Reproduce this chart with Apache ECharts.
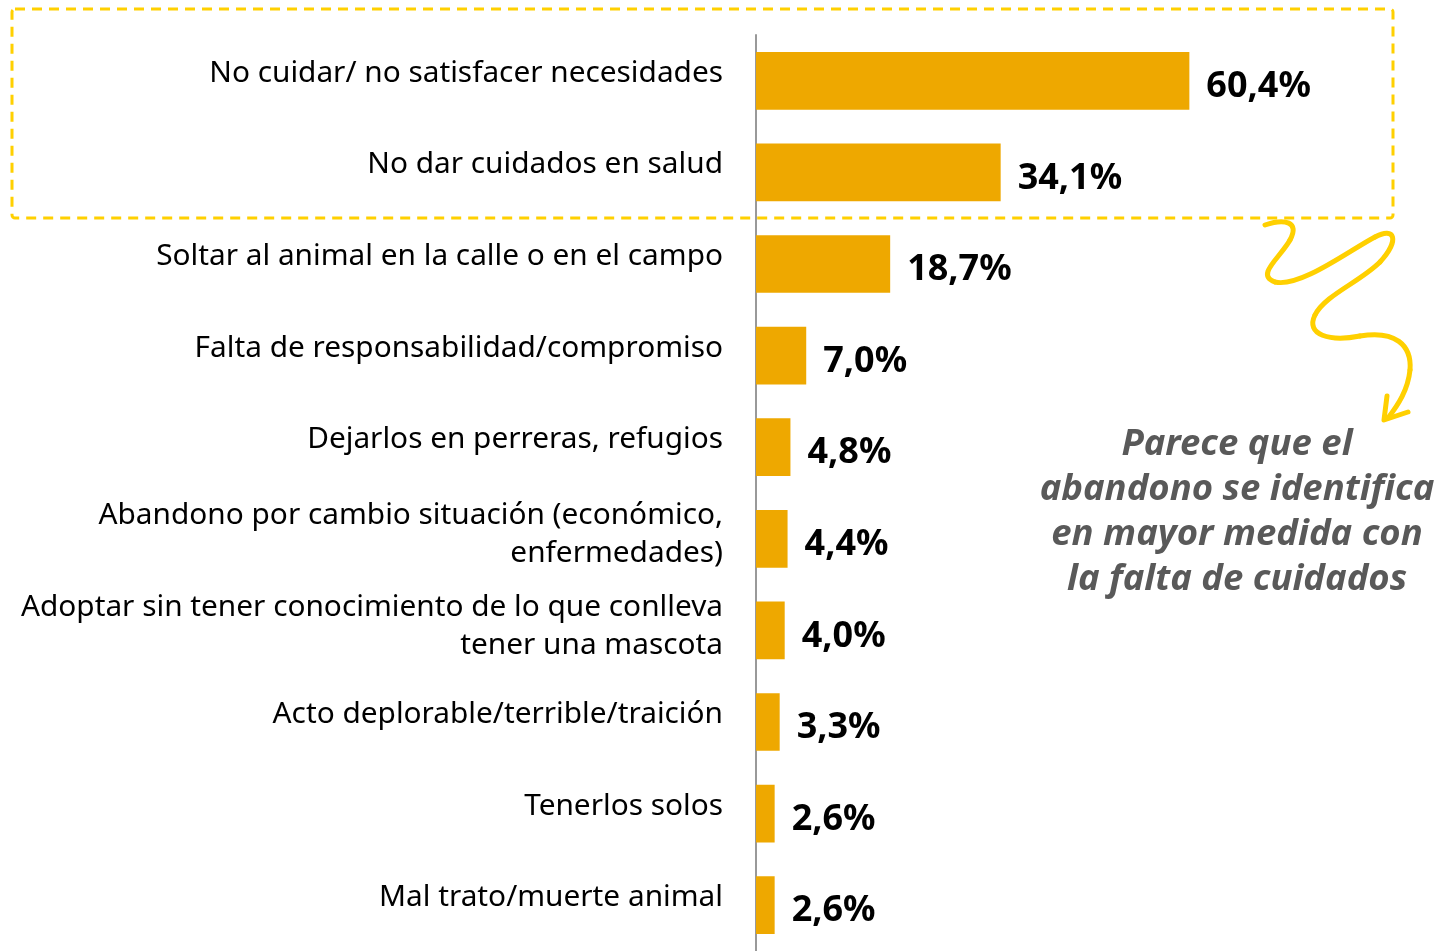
<!DOCTYPE html>
<html lang="es">
<head>
<meta charset="UTF-8">
<title>Abandono</title>
<script src="https://cdn.jsdelivr.net/npm/echarts@6/dist/echarts.min.js"></script>
<style>
  html, body { margin: 0; padding: 0; background: #fff; }
  #main { width: 1440px; height: 951px; }
</style>
</head>
<body>
<div id="main"></div>
<script type="text/javascript">
// categorias y valores (%)
var categorias = [
    'No cuidar/ no satisfacer necesidades',
    'No dar cuidados en salud',
    'Soltar al animal en la calle o en el campo',
    'Falta de responsabilidad/compromiso',
    'Dejarlos en perreras, refugios',
    'Abandono por cambio situación (económico,\nenfermedades)',
    'Adoptar sin tener conocimiento de lo que conlleva\ntener una mascota',
    'Acto deplorable/terrible/traición',
    'Tenerlos solos',
    'Mal trato/muerte animal'
];
var valores = [60.4, 34.1, 18.7, 7.0, 4.8, 4.4, 4.0, 3.3, 2.6, 2.6];
var nota = ['Parece que el', 'abandono se identifica', 'en mayor medida con', 'la falta de cuidados'];

var fuente = '"Noto Sans", "Open Sans", sans-serif';
var amarillo = '#FFD000';

// flecha en espiral: tramos bezier [x1,y1, cx1,cy1, cx2,cy2, x2,y2]
var tramos = [
    [1265, 225, 1285, 218, 1300, 222, 1290, 240],
    [1290, 240, 1280, 258, 1255, 275, 1275, 282],
    [1275, 282, 1300, 288, 1350, 250, 1375, 237],
    [1375, 237, 1395, 226, 1400, 240, 1380, 262],
    [1380, 262, 1360, 282, 1325, 295, 1315, 315],
    [1315, 315, 1305, 335, 1330, 342, 1360, 336],
    [1360, 336, 1395, 330, 1412, 345, 1410, 370],
    [1410, 370, 1408, 390, 1398, 405, 1388, 418]
];

var graficos = [{
    type: 'rect',
    shape: { x: 12, y: 9, width: 1381, height: 209, r: 3 },
    style: { fill: null, stroke: amarillo, lineWidth: 3, lineDash: [10, 7] },
    silent: true
}];
tramos.forEach(function (t) {
    graficos.push({
        type: 'bezierCurve',
        shape: { x1: t[0], y1: t[1], cpx1: t[2], cpy1: t[3], cpx2: t[4], cpy2: t[5], x2: t[6], y2: t[7] },
        style: { fill: null, stroke: amarillo, lineWidth: 5, lineCap: 'round' },
        silent: true
    });
});
graficos.push({
    type: 'polyline',
    shape: { points: [[1387, 396], [1384, 420], [1408, 412]] },
    style: { fill: null, stroke: amarillo, lineWidth: 5, lineCap: 'round', lineJoin: 'round' },
    silent: true
});
graficos.push({
    type: 'text',
    x: 1237,
    y: 422,
    style: {
        text: nota.join('\n'),
        align: 'center',
        verticalAlign: 'top',
        fill: '#595959',
        font: 'italic bold 36.5px ' + fuente,
        lineHeight: 45
    }
});

var myChart = echarts.init(document.getElementById('main'));

myChart.setOption({
    animation: false,
    grid: { left: 756, top: 35, width: 574, height: 917 },
    xAxis: {
        type: 'value',
        min: 0,
        max: 80,
        show: false
    },
    yAxis: {
        type: 'category',
        inverse: true,
        data: categorias,
        axisLine: { show: true, lineStyle: { color: '#999999', width: 2 } },
        axisTick: { show: false },
        axisLabel: {
            margin: 33,
            align: 'right',
            // una linea vacia al final sube un poco el texto
            formatter: function (v) {
                var lineas = v.split('\n');
                var txt = lineas.map(function (l) { return '{a|' + l + '}'; }).join('\n');
                return txt + (lineas.length > 1 ? '\n{s2| }' : '\n{s1| }');
            },
            rich: {
                a: { color: '#000', fontSize: 29.8, fontFamily: fuente, lineHeight: 38, align: 'right' },
                s1: { fontSize: 1, lineHeight: 15 },
                s2: { fontSize: 1, lineHeight: 8 }
            }
        }
    },
    series: [{
        type: 'bar',
        data: valores,
        barCategoryGap: '37%',
        itemStyle: { color: '#EEA800' },
        label: {
            show: true,
            position: 'right',
            distance: 17,
            offset: [0, 6],
            color: '#000',
            fontSize: 36,
            fontWeight: 'bold',
            fontFamily: fuente,
            formatter: function (p) { return p.value.toFixed(1).replace('.', ',') + '%'; }
        }
    }],
    graphic: graficos
});
</script>
</body>
</html>
